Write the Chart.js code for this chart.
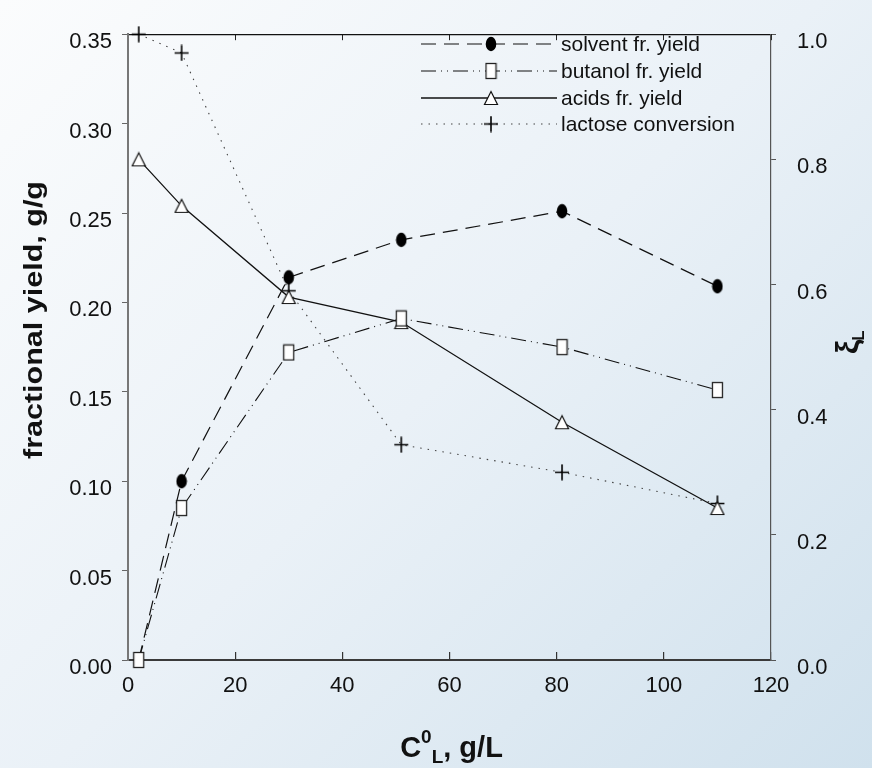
<!DOCTYPE html>
<html lang="en">
<head>
<meta charset="UTF-8">
<title>fractional yield vs C0L</title>
<script src="https://cdn.jsdelivr.net/npm/chart.js"></script>
<style>
  html, body { margin: 0; padding: 0; }
  body {
    width: 872px; height: 768px; overflow: hidden;
    background: linear-gradient(135deg, #fbfcfd 0%, #eaf1f7 50%, #d0e1ed 100%);
  }
  #wrap { position: relative; width: 872px; height: 768px; }
</style>
</head>
<body>
<div id="wrap"><canvas id="chart"></canvas></div>
<script>
// data
const concL = [2, 10, 30, 51, 81, 110];                 // C0L, g/L
const solventYield = [0, 0.100, 0.214, 0.235, 0.251, 0.209];
const butanolYield = [0, 0.085, 0.172, 0.191, 0.175, 0.151];
const acidsYield = [0.280, 0.254, 0.203, 0.189, 0.133, 0.085];
const lactoseConv = [1.00, 0.97, 0.59, 0.344, 0.30, 0.25]; // right axis
const seriesNames = ['solvent fr. yield', 'butanol fr. yield', 'acids fr. yield', 'lactose conversion'];

const xTicks = [0, 20, 40, 60, 80, 100, 120];
const yTicks = [0, 0.05, 0.10, 0.15, 0.20, 0.25, 0.30, 0.35];
const y2Ticks = [0, 0.2, 0.4, 0.6, 0.8, 1.0];

const FONT = '"Liberation Sans", Arial, sans-serif';
Chart.defaults.font.family = FONT;
Chart.defaults.color = '#111';

function pts(ys) { return concL.map((x, i) => ({ x: x, y: ys[i] })) }
function useTicks(arr) { return s => { s.ticks = arr.map(v => ({ value: v })) } }

// markers as small canvases
function marker(w, h, draw) {
  const c = document.createElement('canvas');
  c.width = w; c.height = h;
  draw(c.getContext('2d'), w, h);
  return c;
}
const dotMark = marker(12, 16, g => {
  g.fillStyle = '#000';
  g.beginPath(); g.ellipse(6, 8, 5.3, 7.2, 0, 0, Math.PI * 2); g.fill();
});
const squareMark = marker(13, 18, g => {
  g.fillStyle = '#fff'; g.strokeStyle = '#222'; g.lineWidth = 1.3;
  g.fillRect(1.5, 1.5, 10, 15); g.strokeRect(1.5, 1.5, 10, 15);
});
const triMark = marker(16, 16, g => {
  g.fillStyle = '#fff'; g.strokeStyle = '#111'; g.lineWidth = 1.2;
  g.beginPath(); g.moveTo(8, 1.5); g.lineTo(14.5, 14.5); g.lineTo(1.5, 14.5); g.closePath();
  g.fill(); g.stroke();
});
const crossMark = marker(16, 17, g => {
  g.strokeStyle = '#000'; g.lineWidth = 1.6;
  g.beginPath(); g.moveTo(8, 0.5); g.lineTo(8, 16.5); g.moveTo(1, 8.5); g.lineTo(15, 8.5); g.stroke();
});

// legend drawn inside the plot, line sample with marker in the middle
const rowLegend = {
  id: 'rowLegend',
  afterDatasetsDraw(chart) {
    const c = chart.ctx;
    const x1 = 421, x2 = 557, xm = 491, xt = 561;
    const rowY = [44, 71, 98, 124];
    chart.data.datasets.forEach((ds, i) => {
      const y = rowY[i];
      c.save();
      c.strokeStyle = ds.borderColor;
      c.lineWidth = ds.borderWidth;
      c.setLineDash(ds.borderDash || []);
      c.beginPath(); c.moveTo(x1, y); c.lineTo(x2, y); c.stroke();
      c.setLineDash([]);
      const m = ds.legendMark;
      c.drawImage(m, xm - m.width / 2, y - m.height / 2);
      c.fillStyle = '#111';
      c.font = '21px ' + FONT;
      c.textBaseline = 'middle';
      c.fillText(ds.label, xt, y + 1);
      c.restore();
    });
  }
};

// axis titles with super/subscripts
const axisTitles = {
  id: 'axisTitles',
  afterDraw(chart) {
    const c = chart.ctx, a = chart.chartArea;
    c.save();
    c.fillStyle = '#111';

    // left
    c.save();
    const t = 'fractional yield, g/g';
    c.font = 'bold 26px ' + FONT;
    c.translate(42, 320);
    c.rotate(-Math.PI / 2);
    c.scale(278 / c.measureText(t).width, 1);
    c.textAlign = 'center';
    c.fillText(t, 0, 0);
    c.restore();

    // bottom: C0L, g/L
    const parts = [
      ['C', 'bold 29px ' + FONT, 0],
      ['0', 'bold 19px ' + FONT, -14],
      ['L', 'bold 19px ' + FONT, 6],
      [', g/L', 'bold 29px ' + FONT, 0]
    ];
    let total = 0;
    parts.forEach(p => { c.font = p[1]; total += c.measureText(p[0]).width });
    let x = (a.left + a.right) / 2 + 2 - total / 2;
    parts.forEach(p => {
      c.font = p[1];
      c.fillText(p[0], x, 757 + p[2]);
      x += c.measureText(p[0]).width;
    });

    // right: xi_L
    c.save();
    c.translate(858, 354);
    c.rotate(-Math.PI / 2);
    c.font = 'bold 32px ' + FONT;
    c.fillText('ξ', 0, 0);
    const wx = c.measureText('ξ').width;
    c.font = 'bold 17px ' + FONT;
    c.fillText('L', wx - 1, 6);
    c.restore();

    c.restore();
  }
};

const chart = new Chart(document.getElementById('chart'), {
  type: 'line',
  data: {
    datasets: [{
      label: seriesNames[0],
      data: pts(solventYield),
      xAxisID: 'x', yAxisID: 'y',
      borderColor: '#111', borderWidth: 1.2, borderDash: [15, 8],
      pointStyle: dotMark, legendMark: dotMark,
      pointRadius: ctx => ctx.dataIndex === 0 ? 0 : 5,
      order: 1, clip: false
    }, {
      label: seriesNames[1],
      data: pts(butanolYield),
      xAxisID: 'x', yAxisID: 'y',
      borderColor: '#111', borderWidth: 1.1, borderDash: [15, 5, 1, 5, 1, 5],
      pointStyle: squareMark, legendMark: squareMark, pointRadius: 5,
      order: 0, clip: false
    }, {
      label: seriesNames[2],
      data: pts(acidsYield),
      xAxisID: 'x', yAxisID: 'y',
      borderColor: '#111', borderWidth: 1.3,
      pointStyle: triMark, legendMark: triMark, pointRadius: 5,
      order: 2, clip: false
    }, {
      label: seriesNames[3],
      data: pts(lactoseConv),
      xAxisID: 'x', yAxisID: 'y2',
      borderColor: '#444', borderWidth: 1.1, borderDash: [1.5, 6],
      pointStyle: crossMark, legendMark: crossMark, pointRadius: 5,
      order: 3, clip: false
    }]
  },
  options: {
    responsive: true,
    maintainAspectRatio: false,
    animation: false,
    devicePixelRatio: 1,
    layout: { padding: 0 },
    elements: { line: { tension: 0 } },
    plugins: { legend: { display: false }, tooltip: { enabled: false } },
    scales: {
      x: {
        type: 'linear', position: 'bottom', min: 0, max: 120,
        afterBuildTicks: useTicks(xTicks),
        afterFit: s => { s.height = 108 },
        grid: { drawOnChartArea: false, tickLength: -8, color: '#333', lineWidth: 1.2 },
        border: { color: '#3a3a3a', width: 2 },
        ticks: { padding: 21, font: { size: 22 }, maxRotation: 0, autoSkip: false }
      },
      x2: {
        type: 'linear', position: 'top', min: 0, max: 120,
        afterBuildTicks: useTicks(xTicks),
        afterFit: s => { s.height = 14 },
        grid: { drawOnChartArea: false, tickLength: -6, color: '#222' },
        border: { color: '#111', width: 1.2 },
        ticks: { display: false }
      },
      y: {
        type: 'linear', position: 'left', min: 0, max: 0.35,
        afterBuildTicks: useTicks(yTicks),
        afterFit: s => { s.width = 128 },
        grid: { drawOnChartArea: false, tickLength: 6, color: '#666' },
        border: { color: '#777', width: 2 },
        ticks: { padding: 10, labelOffset: 8, font: { size: 22 }, callback: v => v.toFixed(2) }
      },
      y2: {
        type: 'linear', position: 'right', min: 0, max: 1,
        afterBuildTicks: useTicks(y2Ticks),
        afterFit: s => { s.width = 101 },
        grid: { drawOnChartArea: false, tickLength: 5, color: '#555' },
        border: { color: '#555', width: 1.2 },
        ticks: { padding: 21, labelOffset: 8, font: { size: 22 }, callback: v => v.toFixed(1) }
      }
    }
  },
  plugins: [rowLegend, axisTitles]
});
</script>
</body>
</html>
